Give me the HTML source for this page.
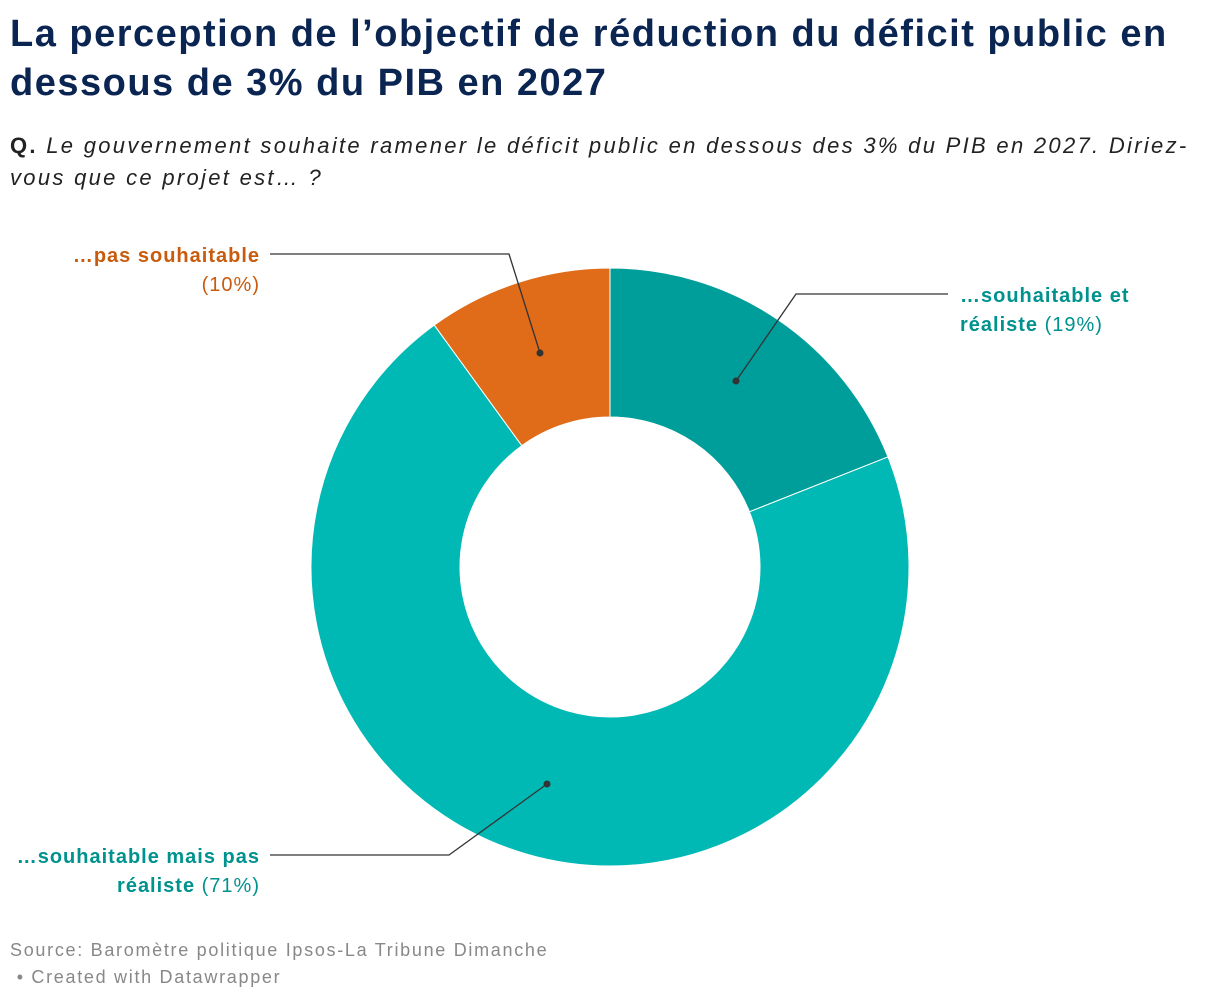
<!DOCTYPE html>
<html><head><meta charset="utf-8">
<style>
body{margin:0;background:#fff;font-family:"Liberation Sans",Roboto,sans-serif;width:1220px;height:1000px;overflow:hidden;position:relative}
h1{position:absolute;left:10px;top:10px;margin:0;font-size:38px;line-height:49px;color:#0b2552;font-weight:bold;width:1210px;letter-spacing:1.5px;white-space:nowrap}
.q{position:absolute;left:10px;top:130px;font-size:22px;line-height:32px;color:#222;width:1210px;letter-spacing:2.3px;white-space:nowrap}
.q i{font-style:italic}
.src{position:absolute;left:10px;top:937px;font-size:18px;line-height:27px;color:#888;letter-spacing:1.7px}
svg{position:absolute;left:0;top:0}
</style></head><body>
<h1>La perception de l’objectif de réduction du déficit public en<br>dessous de 3% du PIB en 2027</h1>
<div class="q"><b>Q.</b> <i>Le gouvernement souhaite ramener le déficit public en dessous des 3% du PIB en 2027. Diriez-<br>vous que ce projet est… ?</i></div>
<svg id="chart" width="1220" height="1000"></svg>
<div class="src">Source: Baromètre politique Ipsos-La Tribune Dimanche<br>&nbsp;• Created with Datawrapper</div>
<script>
const categories=["…souhaitable et réaliste","…souhaitable mais pas réaliste","…pas souhaitable"];
const values=[19,71,10];
const colors=["#009e9a","#00b8b4","#e06b18"];
const svg=document.getElementById('chart');
const NS="http://www.w3.org/2000/svg";
const cx=610,cy=567,R=299,r=150;
const total=values.reduce((a,b)=>a+b,0);
function pt(a,rad){return [cx+rad*Math.sin(a),cy-rad*Math.cos(a)];}
let acc=0;
values.forEach((v,i)=>{
  const a0=acc/total*2*Math.PI; acc+=v; const a1=acc/total*2*Math.PI;
  const large=(a1-a0)>Math.PI?1:0;
  const p0=pt(a0,R),p1=pt(a1,R),q1=pt(a1,r),q0=pt(a0,r);
  const p=document.createElementNS(NS,'path');
  p.setAttribute('d',`M${p0}A${R},${R} 0 ${large} 1 ${p1}L${q1}A${r},${r} 0 ${large} 0 ${q0}Z`);
  p.setAttribute('fill',colors[i]);p.setAttribute('stroke','#fff');p.setAttribute('stroke-width','1');
  
  
  svg.appendChild(p);
});
const ann=[
 {pts:[[736,381],[796,294],[948,294]],lines:[["…souhaitable et",""],["réaliste"," ("+values[0]+"%)"]],x:960,y:302,anchor:"start",col:"#00928e"},
 {pts:[[547,784],[449,855],[270,855]],lines:[["…souhaitable mais pas",""],["réaliste"," ("+values[1]+"%)"]],x:260,y:863,anchor:"end",col:"#00928e"},
 {pts:[[540,353],[509,254],[270,254]],lines:[["…pas souhaitable",""],["","("+values[2]+"%)"]],x:260,y:262,anchor:"end",col:"#c95b0d"}
];
ann.forEach((a,i)=>{
  const pl=document.createElementNS(NS,'polyline');
  pl.setAttribute('points',a.pts.map(p=>p.join(',')).join(' '));
  pl.setAttribute('fill','none');pl.setAttribute('stroke','#333');pl.setAttribute('stroke-width','1.3');
  
  
  svg.appendChild(pl);
  const c=document.createElementNS(NS,'circle');
  c.setAttribute('cx',a.pts[0][0]);c.setAttribute('cy',a.pts[0][1]);c.setAttribute('r',3.5);c.setAttribute('fill','#333');
  
  
  svg.appendChild(c);
  a.lines.forEach((ln,j)=>{
    const t=document.createElementNS(NS,'text');
    t.setAttribute('x',a.x);t.setAttribute('y',a.y+j*29);t.setAttribute('text-anchor',a.anchor);
    t.setAttribute('font-size','20');t.setAttribute('fill',a.col);t.setAttribute('font-family','"Liberation Sans",sans-serif');
    t.setAttribute('letter-spacing','1');
    
    
    const b=document.createElementNS(NS,'tspan');b.setAttribute('font-weight','bold');b.textContent=ln[0];
    const n=document.createElementNS(NS,'tspan');n.textContent=ln[1];
    t.appendChild(b);t.appendChild(n);svg.appendChild(t);
  });
});
</script>
</body></html>
